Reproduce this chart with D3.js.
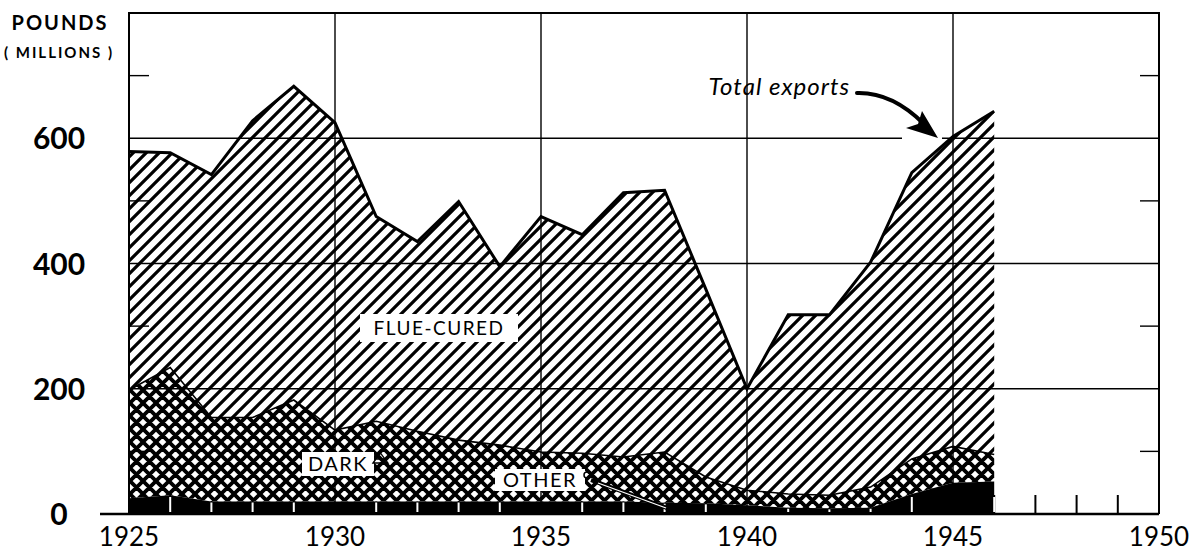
<!DOCTYPE html>
<html>
<head>
<meta charset="utf-8">
<script src="https://cdn.jsdelivr.net/npm/d3@7"></script>
<style>
  body { margin: 0; background: #fff; }
  text { font-family: Lato, "DejaVu Sans", sans-serif; fill: #000; }
</style>
</head>
<body>
<div id="viz"></div>
<script>
// tobacco exports, millions of pounds
var years = [1925, 1926, 1927, 1928, 1929, 1930, 1931, 1932, 1933, 1934, 1935,
             1936, 1937, 1938, 1939, 1940, 1941, 1942, 1943, 1944, 1945, 1946];
var otherExports = [25, 30, 20, 20, 20, 20, 20, 20, 20, 20, 20,
                    20, 20, 18, 17, 14, 10, 9, 10, 32, 50, 52];
var darkExports = [173, 204, 134, 134, 162, 114, 128, 112, 98, 90, 79,
                   77, 71, 81, 42, 24, 22, 21, 33, 56, 58, 43];
var flueExports = [381, 343, 388, 474, 501, 491, 327, 303, 381, 285, 376,
                   349, 422, 418, 300, 162, 286, 288, 359, 457, 495, 548];

var gridValues = [200, 400, 600];
var minorValues = [100, 300, 500, 700];
var yLabels = [0, 200, 400, 600];
var xLabels = [1925, 1930, 1935, 1940, 1945, 1950];
var tickYears = [1926, 1927, 1928, 1929, 1931, 1932, 1933, 1934, 1936, 1937, 1938, 1939,
                 1941, 1942, 1943, 1944, 1946, 1947, 1948, 1949];

var width = 1197, height = 552;
var margin = { t: 13, l: 129, b: 38, r: 38 };

var svg = d3.select('#viz').append('svg')
  .attr('width', width)
  .attr('height', height);

var x = d3.scaleLinear().domain([1925, 1950]).range([margin.l, width - margin.r]);
var y = d3.scaleLinear().domain([0, 800]).range([height - margin.b, margin.t]);

var table = years.map(function(yr, i) {
  return { year: yr, other: otherExports[i], dark: darkExports[i], flue: flueExports[i] };
});
var stack = d3.stack().keys(['other', 'dark', 'flue'])(table);

// patterns
var defs = svg.append('defs');
var p1 = defs.append('pattern').attr('id', 'flue')
  .attr('patternUnits', 'userSpaceOnUse').attr('width', 13).attr('height', 13);
p1.append('path').attr('d', 'M-3,3 L3,-3 M0,13 L13,0 M10,16 L16,10')
  .attr('stroke', '#000').attr('stroke-width', 3.2);
var p2 = defs.append('pattern').attr('id', 'dark')
  .attr('patternUnits', 'userSpaceOnUse').attr('width', 13).attr('height', 13);
p2.append('rect').attr('width', 13).attr('height', 13).attr('fill', '#fff');
p2.append('path').attr('d', 'M-3,3 L3,-3 M0,13 L13,0 M10,16 L16,10 M-3,10 L3,16 M0,0 L13,13 M10,-3 L16,3')
  .attr('stroke', '#000').attr('stroke-width', 3.8);

var area = d3.area()
  .x(function(d) { return x(d.data.year); })
  .y0(function(d) { return y(d[0]); })
  .y1(function(d) { return y(d[1]); });

// year ticks (black)
svg.append('g').selectAll('line').data(tickYears).join('line')
  .attr('x1', function(d) { return x(d); }).attr('x2', function(d) { return x(d); })
  .attr('y1', y(0)).attr('y2', y(0) - 19)
  .attr('stroke', '#000').attr('stroke-width', 2);

svg.append('path').attr('d', area(stack[2])).attr('fill', 'url(#flue)');
svg.append('path').attr('d', area(stack[1])).attr('fill', 'url(#dark)');
svg.append('path').attr('d', area(stack[0])).attr('fill', '#000');

// white ticks inside the solid band
var bandTicks = tickYears.filter(function(d) { return years.indexOf(d) >= 0; });
svg.append('g').selectAll('line').data(bandTicks).join('line')
  .attr('x1', function(d) { return x(d); }).attr('x2', function(d) { return x(d); })
  .attr('y1', y(0) - 2)
  .attr('y2', function(d) { return Math.max(y(0) - 17, y(otherExports[years.indexOf(d)]) + 1); })
  .attr('stroke', '#fff').attr('stroke-width', 2);

// outlines
var line = d3.line().x(function(d) { return x(d.data.year); }).y(function(d) { return y(d[1]); });
svg.append('path').attr('d', line(stack[1])).attr('fill', 'none')
  .attr('stroke', '#000').attr('stroke-width', 1.6);
svg.append('path').attr('d', line(stack[2])).attr('fill', 'none')
  .attr('stroke', '#000').attr('stroke-width', 3).attr('stroke-linejoin', 'miter');

// grid
var grid = svg.append('g').attr('stroke', '#000').attr('stroke-width', 1.4);
grid.selectAll('.h').data(gridValues).join('line')
  .attr('x1', x(1925)).attr('x2', x(1950))
  .attr('y1', function(d) { return y(d); }).attr('y2', function(d) { return y(d); });
grid.selectAll('.v').data([1930, 1935, 1940, 1945]).join('line')
  .attr('x1', function(d) { return x(d); }).attr('x2', function(d) { return x(d); })
  .attr('y1', y(800)).attr('y2', y(0));
grid.selectAll('.ml').data(minorValues).join('line')
  .attr('x1', x(1925)).attr('x2', x(1925) + 20)
  .attr('y1', function(d) { return y(d); }).attr('y2', function(d) { return y(d); });
grid.selectAll('.mr').data(minorValues).join('line')
  .attr('x1', x(1950) - 19).attr('x2', x(1950))
  .attr('y1', function(d) { return y(d); }).attr('y2', function(d) { return y(d); });

// frame
svg.append('path')
  .attr('d', 'M' + x(1925) + ',' + y(0) + 'V' + y(800) + 'H' + x(1950) + 'V' + y(0))
  .attr('fill', 'none').attr('stroke', '#000').attr('stroke-width', 2);
svg.append('line').attr('x1', 100).attr('x2', x(1950))
  .attr('y1', y(0)).attr('y2', y(0)).attr('stroke', '#000').attr('stroke-width', 2.5);

// axis labels
svg.append('g').selectAll('text').data(yLabels).join('text')
  .attr('x', 59).attr('y', function(d) { return y(d) + 11; })
  .attr('text-anchor', 'middle').attr('font-size', 30).attr('font-weight', 'bold')
  .text(function(d) { return d; });
svg.append('g').selectAll('text').data(xLabels).join('text')
  .attr('x', function(d) { return x(d); }).attr('y', 546)
  .attr('text-anchor', 'middle').attr('font-size', 26)
  .text(function(d) { return d; });

svg.append('text').attr('x', 60).attr('y', 30).attr('text-anchor', 'middle')
  .attr('font-size', 20).attr('font-weight', 'bold').attr('letter-spacing', 2)
  .text('POUNDS');
svg.append('text').attr('x', 59).attr('y', 58).attr('text-anchor', 'middle')
  .attr('font-size', 15).attr('font-weight', 'bold').attr('letter-spacing', 2)
  .text('( MILLIONS )');

// series labels with white boxes
function label(txt, cx, cy, w, h, size) {
  svg.append('rect').attr('x', cx - w / 2).attr('y', cy - h / 2)
    .attr('width', w).attr('height', h).attr('fill', '#fff');
  svg.append('text').attr('x', cx).attr('y', cy + size * 0.36)
    .attr('text-anchor', 'middle').attr('font-size', size).attr('letter-spacing', 1.5)
    .text(txt);
}
label('FLUE-CURED', 439, 328, 158, 28, 19);
label('DARK', 338, 464, 72, 24, 20);
label('OTHER', 540, 480, 90, 22, 20);

// small symbols
svg.append('path').attr('d', 'M373,463 L380.5,453 L388,463 Z M375,459 H386')
  .attr('fill', 'none').attr('stroke', '#000').attr('stroke-width', 1.3);
svg.append('circle').attr('cx', 587).attr('cy', 475).attr('r', 3)
  .attr('fill', 'none').attr('stroke', '#000').attr('stroke-width', 1.5);
svg.append('line').attr('x1', 591).attr('y1', 480).attr('x2', 667).attr('y2', 508)
  .attr('stroke', '#000').attr('stroke-width', 4);
svg.append('line').attr('x1', 598).attr('y1', 483).attr('x2', 666).attr('y2', 508)
  .attr('stroke', '#fff').attr('stroke-width', 1.3);

// total exports annotation
svg.append('line').attr('x1', 902).attr('x2', 942).attr('y1', y(600)).attr('y2', y(600))
  .attr('stroke', '#fff').attr('stroke-width', 4);
svg.append('text').attr('x', 850).attr('y', 95).attr('text-anchor', 'end')
  .attr('font-size', 24).attr('font-style', 'italic').attr('letter-spacing', 1)
  .text('Total exports');
svg.append('path').attr('d', 'M857,93 Q892,92 924,124')
  .attr('fill', 'none').attr('stroke', '#000').attr('stroke-width', 4).attr('stroke-linecap', 'round');
svg.append('path').attr('d', 'M938,138 L906,128 L918,124 L922,111 Z').attr('fill', '#000');
</script>
</body>
</html>
